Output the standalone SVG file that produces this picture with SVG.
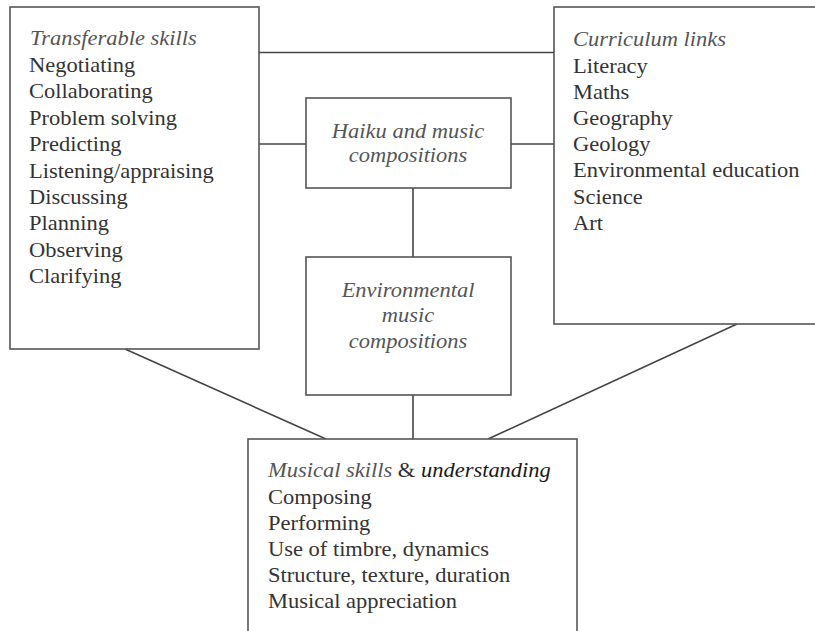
<svg xmlns="http://www.w3.org/2000/svg" width="815" height="631" viewBox="0 0 815 631">
<style>
.box{fill:#fff;stroke:#555;stroke-width:1.6}
.con line{stroke:#444;stroke-width:1.6}
text{font-family:"Liberation Serif","Times New Roman",serif;font-size:20px;fill:#333}
.it{font-style:italic;fill:#555}
.c{text-anchor:middle}
</style>
<rect width="815" height="631" fill="#fff"/>
<g id="connectors" class="con">
<line x1="259" y1="52.5" x2="554" y2="52.5"/>
<line x1="259" y1="144" x2="306" y2="144"/>
<line x1="511" y1="144" x2="554" y2="144"/>
<line x1="413" y1="188" x2="413" y2="257"/>
<line x1="413" y1="395" x2="413" y2="439"/>
<line x1="125" y1="349" x2="326" y2="439"/>
<line x1="737" y1="324" x2="488" y2="439"/>
</g>
<g id="transferable">
<rect class="box" x="10" y="7" width="249" height="342"/>
<g transform="scale(1.125,1)">
<text x="26.7" y="45" class="it">Transferable skills</text>
<text x="25.8" y="72">Negotiating</text>
<text x="25.8" y="98.4">Collaborating</text>
<text x="25.8" y="124.8">Problem solving</text>
<text x="25.8" y="151.2">Predicting</text>
<text x="25.8" y="177.6">Listening/appraising</text>
<text x="25.8" y="204">Discussing</text>
<text x="25.8" y="230.4">Planning</text>
<text x="25.8" y="256.8">Observing</text>
<text x="25.8" y="283.2">Clarifying</text>
</g>
</g>
<g id="curriculum">
<rect class="box" x="554" y="7" width="280" height="317"/>
<g transform="scale(1.125,1)">
<text x="509.3" y="46" class="it">Curriculum links</text>
<text x="509.3" y="72.6">Literacy</text>
<text x="509.3" y="98.8">Maths</text>
<text x="509.3" y="125">Geography</text>
<text x="509.3" y="151.2">Geology</text>
<text x="509.3" y="177.4">Environmental education</text>
<text x="509.3" y="203.6">Science</text>
<text x="509.3" y="229.8">Art</text>
</g>
</g>
<g id="haiku">
<rect class="box" x="306" y="98" width="205" height="90"/>
<g transform="scale(1.125,1)">
<text x="362.7" y="138" class="it c">Haiku and music</text>
<text x="362.7" y="162" class="it c">compositions</text>
</g>
</g>
<g id="environmental">
<rect class="box" x="306" y="257" width="205" height="138"/>
<g transform="scale(1.125,1)">
<text x="362.7" y="297" class="it c">Environmental</text>
<text x="362.7" y="322" class="it c">music</text>
<text x="362.7" y="348" class="it c">compositions</text>
</g>
</g>
<g id="musical">
<rect class="box" x="248" y="439" width="329" height="220"/>
<g transform="scale(1.125,1)">
<text x="238.2" y="477"><tspan class="it">Musical skills</tspan> &amp; <tspan font-style="italic" fill="#1a1a1a">understanding</tspan></text>
<text x="238.2" y="504">Composing</text>
<text x="238.2" y="530">Performing</text>
<text x="238.2" y="556">Use of timbre, dynamics</text>
<text x="238.2" y="582">Structure, texture, duration</text>
<text x="238.2" y="608">Musical appreciation</text>
</g>
</g>
</svg>
